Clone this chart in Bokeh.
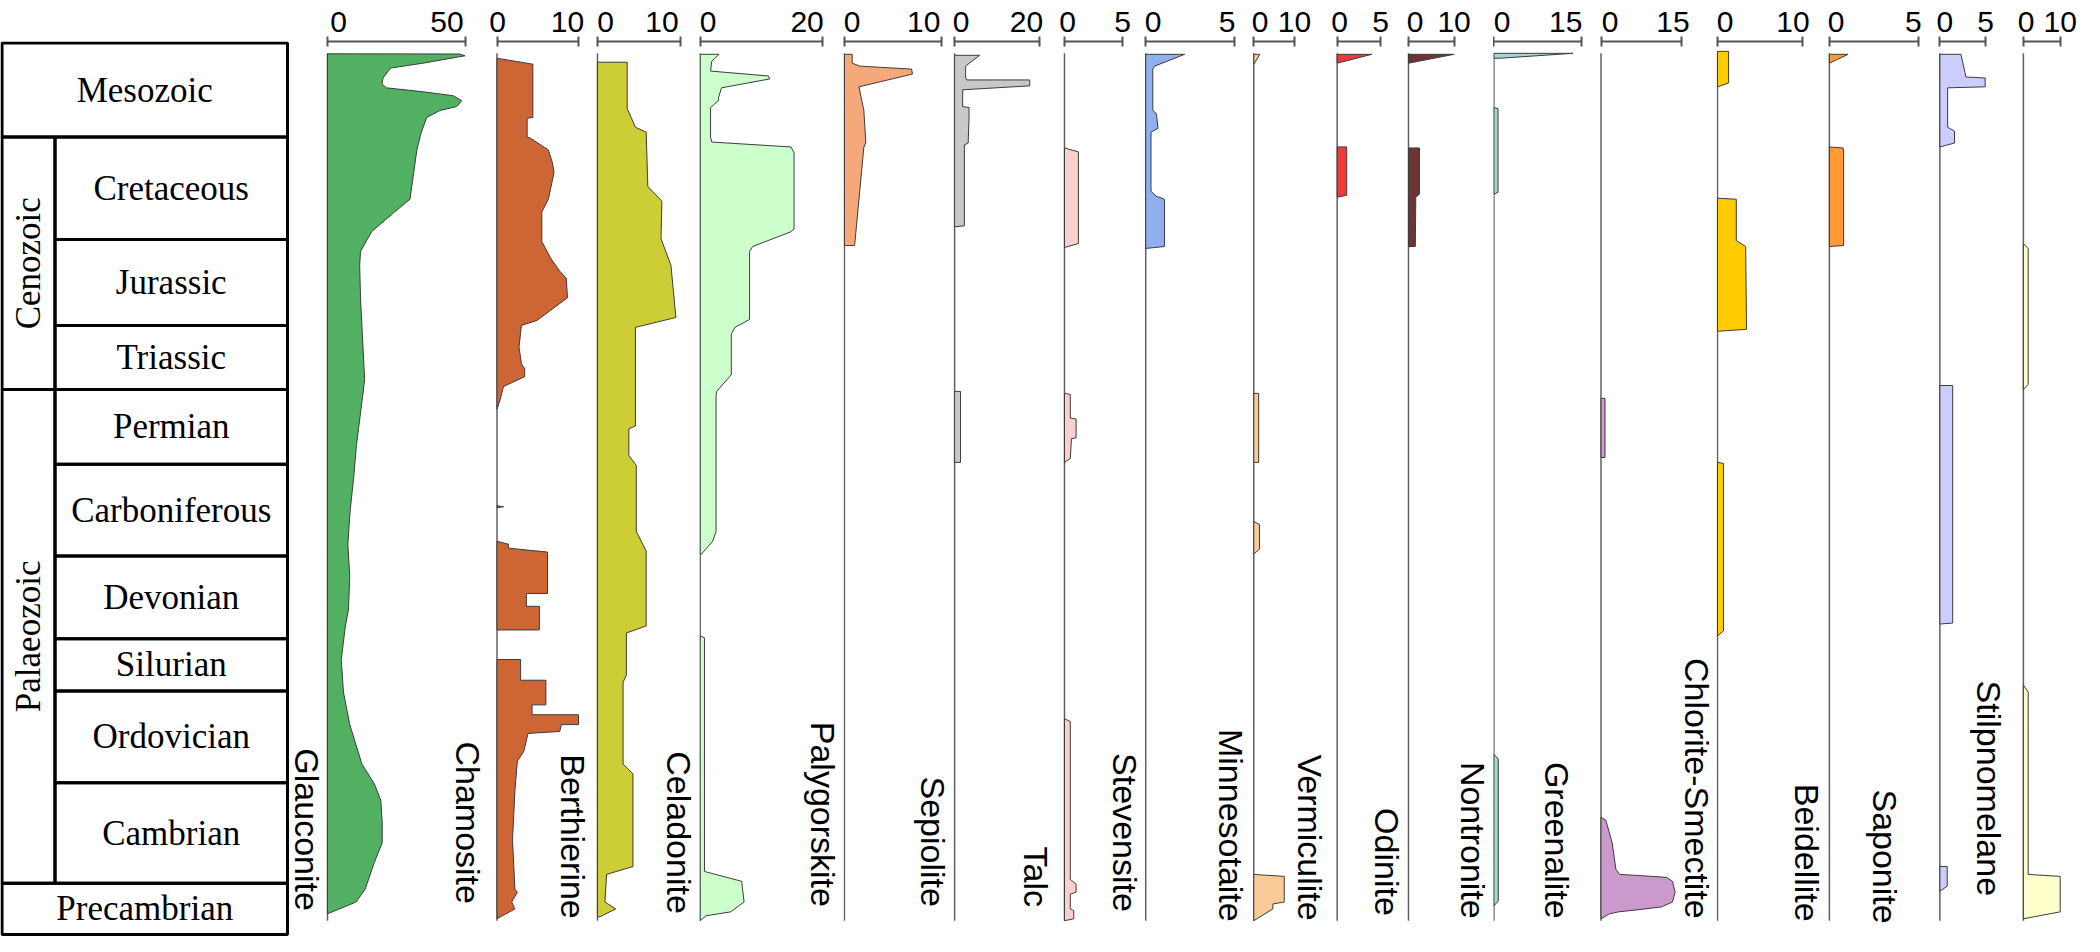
import math
import numpy as np
from bokeh.plotting import figure
from bokeh.models import Range1d, LinearAxis, FixedTicker
from bokeh.layouts import row
from bokeh.core.properties import value
from bokeh.embed import file_html
from bokeh.resources import INLINE

N = None

# ---------------- stratigraphic column (positions on the shared vertical scale) ----------------
ERA_NAMES = ["Mesozoic", "Cenozoic", "Palaeozoic", "Precambrian"]
ERA_TOP = [41.5, 137, 393, 894]
ERA_BOTTOM = [137, 393, 894, 946]
ERA_FULL_WIDTH = [True, False, False, True]
PERIOD_NAMES = ["Cretaceous", "Jurassic", "Triassic", "Permian", "Carboniferous",
                "Devonian", "Silurian", "Ordovician", "Cambrian"]
PERIOD_TOP = [137, 241, 328, 393, 469, 562, 646, 699, 792]
PERIOD_BOTTOM = [241, 328, 393, 469, 562, 646, 699, 792, 894]

# ---------------- minerals ----------------
MINERALS = ["Glauconite", "Chamosite", "Berthierine", "Celadonite", "Palygorskite", "Sepiolite",
            "Talc", "Stevensite", "Minnesotaite", "Vermiculite", "Odinite", "Nontronite",
            "Greenalite", "Chlorite-Smectite", "Beidellite", "Saponite", "Stilpnomelane"]
AXIS_MAX = [50, 10, 10, 20, 10, 20, 5, 5, 10, 5, 10, 15, 15, 10, 5, 5, 10]
COLORS = ["#52B062", "#CD6634", "#CDCD35", "#CCFFCC", "#F5A97B", "#C8C8C8", "#F9CFCF", "#8FAFF0",
          "#FAC998", "#EE3A3A", "#6E3434", "#9FD8D0", "#CC99CC", "#FFCC00", "#FF9A35", "#CCCCFF",
          "#FFFFCC"]

glauconite_pos = [52.5, 52.7, 54.5, 62, 67, 77, 83, 87, 91, 95, 100, 106, 110, 117, 133, 150, 180, 200,
                  213, 233, 253, 267, 300, 333, 383, 417, 450, 483, 517, 550, 583, 617, 633, 667, 700,
                  733, 773, 793, 810, 833, 853, 873, 900, 913, 925]
glauconite_pct = [0, 48, 50, 34.7, 22.9, 20.2, 19.8, 21.4, 34.7, 45.7, 48.8, 47, 40.9, 36.1, 34, 32.5,
                  31, 30, 24.4, 16, 12, 11.7, 12, 12.6, 13.5, 12, 10.5, 9.5, 8.2, 7.4, 8.1, 7.6, 6.5,
                  5.0, 5.8, 8.1, 12.5, 17, 19.4, 19.9, 19.9, 17, 13.7, 10.4, 0]

chamosite_pos = [57, 63, 117, 118, 137, 138, 150, 163, 173, 200, 213, 243, 260, 273, 280, 300, 323, 328,
                 350, 367, 372, 380, 390, 403, 413, N, 511, 512, 513, N,
                 547, 550, 554, 558, 600, 600, 613, 613, 637, 637, N,
                 667, 667, 688, 688, 713, 713, 723, 723, 733, 733, 740, 742, 760, 770, 800, 850, 900,
                 903, 913, 920, 930]
chamosite_pct = [0, 4.4, 4.4, 3.7, 3.7, 4.1, 6.3, 6.8, 7.0, 6.3, 5.5, 5.5, 6.6, 7.7, 8.5, 8.65, 4.9, 3.0,
                 2.7, 3.0, 3.4, 3.4, 0.8, 0.4, 0, N, 0, 0.8, 0, N,
                 0, 1.4, 1.4, 6.2, 6.2, 3.6, 3.6, 5.2, 5.2, 0, N,
                 0, 2.9, 2.9, 6.0, 6.0, 4.3, 4.3, 10, 10, 7.9, 7.7, 3.8, 3.3, 2.5, 2.2, 1.9, 2.2,
                 2.5, 1.8, 2.2, 0]

berthierine_pos = [61, 61, 108, 127, 132, 187, 202, 240, 267, 320, 330, 430, 433, 460, 470, 537, 557,
                   633, 640, 683, 690, 773, 783, 877, 885, 913, 920, 928, 928]
berthierine_pct = [0, 3.6, 3.6, 4.6, 5.9, 6.1, 7.8, 7.7, 8.9, 9.5, 4.6, 4.6, 3.8, 3.8, 4.7, 4.7, 5.9,
                   5.9, 3.5, 3.5, 3.1, 3.1, 4.3, 4.3, 1.1, 0.9, 2.2, 0.3, 0]

celadonite_pos = [53, 53, 60, 70, 75, 78, 87, 97, 100, 103, 107, 137, 142, 147, 153, 230, 233, 248, 253,
                  322, 330, 337, 378, 395, 400, 537, 547, 560, 560, N,
                  643, 645, 882, 883, 892, 913, 923, 927, 932]
celadonite_pct = [0, 3.1, 1.9, 1.7, 11.2, 11.4, 3.5, 3.0, 3.0, 2.4, 1.7, 1.7, 1.9, 14.9, 15.4, 15.4,
                  14.9, 8.6, 8.1, 8.1, 5.7, 5.1, 5.1, 2.7, 2.6, 2.6, 2.05, 0.2, 0, N,
                  0, 0.7, 0.7, 1.3, 6.8, 7.2, 5.0, 0.95, 0]

palygorskite_pos = [53, 53, 62, 65, 68, 73, 86, 110, 143, 147, 247, 247]
palygorskite_pct = [0, 0.8, 0.8, 1.6, 6.9, 7.0, 1.5, 2.0, 2.2, 2.0, 1.05, 0]

sepiolite_pos = [54, 54, 65, 77, 79, 79, 85, 89, 106, 107, 117, 143, 145, 227, 228, N, 395, 395, 467, 467]
sepiolite_pct = [0, 5.9, 2.6, 2.6, 2.9, 17.7, 17.7, 1.9, 1.9, 3.4, 3.4, 3.2, 2.3, 2.3, 0, N, 0, 1.4, 1.4, 0]

talc_pos = [148, 152, 245, 249, N, 397, 398, 422, 423, 442, 443, 463, 467, N,
            727, 730, 890, 895, 903, 905, 920, 922, 930, 932]
talc_pct = [0, 1.2, 1.2, 0, N, 0, 0.5, 0.5, 1.0, 1.0, 0.6, 0.5, 0, N,
            0, 0.5, 0.5, 1.0, 1.0, 0.5, 0.5, 0.8, 0.8, 0]

stevensite_pos = [53, 53, 65, 68, 110, 113, 128, 132, 192, 197, 200, 248, 250]
stevensite_pct = [0, 2.2, 0.5, 0.4, 0.4, 0.6, 0.7, 0.3, 0.3, 0.6, 1.06, 1.06, 0]

minnesotaite_pos = [53, 53, 63, N, 397, 397, 467, 467, N, 527, 530, 555, 560, N, 885, 887, 913, 915, 920, 932]
minnesotaite_pct = [0, 1.5, 0, N, 0, 1.2, 1.2, 0, N, 0, 1.4, 1.4, 0, N, 0, 7.5, 7.5, 4.7, 4.7, 0]

vermiculite_pos = [53, 53, 62, N, 147, 147, 196, 198]
vermiculite_pct = [0, 4.0, 0, N, 0, 1.1, 1.1, 0]

odinite_pos = [53, 53, 62, N, 148, 148, 195, 198, 248, 248]
odinite_pct = [0, 10, 0, N, 0, 2.4, 2.4, 1.6, 1.5, 0]

nontronite_pos = [52, 52, 57, 57, N, 107, 108, 193, 195, N, 763, 768, 912, 917]
nontronite_pct = [0, 13.5, 1.0, 0, N, 0, 0.7, 0.7, 0, N, 0, 0.75, 0.75, 0]

greenalite_pos = [402, 402, 462, 462, N, 827, 830, 853, 880, 885, 886, 888, 892, 903, 913, 918, 921,
                  923, 925, 930]
greenalite_pct = [0, 0.75, 0.75, 0, N, 0, 0.9, 2.1, 2.8, 3.5, 6.7, 12.3, 13.4, 13.9, 13.4, 11.3, 6.7,
                  3.3, 1.6, 0]

chlorite_smectite_pos = [50, 50, 82, 86, N, 199, 200, 242, 248, 332, 334, N, 467, 468, 638, 643]
chlorite_smectite_pct = [0, 1.3, 1.3, 0, N, 0, 2.2, 2.2, 3.3, 3.4, 0, N, 0, 0.7, 0.7, 0]

beidellite_pos = [53, 53, 62, N, 147, 148, 152, 247, 248]
beidellite_pct = [0, 1.05, 0, N, 0, 0.77, 0.8, 0.8, 0]

saponite_pos = [53, 53, 76, 77, 86, 87, 127, 131, 143, 147, N, 389, 389, 630, 631, N, 877, 877, 897, 902]
saponite_pct = [0, 2.3, 2.85, 4.95, 4.95, 0.85, 0.85, 1.6, 1.6, 0, N, 0, 1.4, 1.4, 0, N, 0, 0.8, 0.8, 0]

stilpnomelane_pos = [245, 250, 388, 393, N, 693, 700, 885, 887, 923, 930]
stilpnomelane_pct = [0, 1.3, 1.3, 0, N, 0, 1.3, 1.3, 10, 10, 0]

SERIES = [
    (glauconite_pos, glauconite_pct), (chamosite_pos, chamosite_pct),
    (berthierine_pos, berthierine_pct), (celadonite_pos, celadonite_pct),
    (palygorskite_pos, palygorskite_pct), (sepiolite_pos, sepiolite_pct),
    (talc_pos, talc_pct), (stevensite_pos, stevensite_pct),
    (minnesotaite_pos, minnesotaite_pct), (vermiculite_pos, vermiculite_pct),
    (odinite_pos, odinite_pct), (nontronite_pos, nontronite_pct),
    (greenalite_pos, greenalite_pct), (chlorite_smectite_pos, chlorite_smectite_pct),
    (beidellite_pos, beidellite_pct), (saponite_pos, saponite_pct),
    (stilpnomelane_pos, stilpnomelane_pct),
]

# ---------------- layout (page pixels) ----------------
PAGE_MARGIN = 8
CANVAS_W = 2084
CANVAS_H = 936
Y_TOP, Y_BOTTOM = 40, 948
BASELINE_TOP, BASELINE_BOTTOM = 52, 932
BASE_X = [335, 504.5, 605, 707.7, 851.9, 962.1, 1072, 1153.2, 1261.3, 1344.7, 1416, 1501.4, 1608.5,
          1725, 1836.9, 1947.4, 2030.9]
END_X = [472.5, 586, 687.5, 829.6, 949.2, 1047, 1130, 1241.6, 1301.9, 1388, 1461.6, 1589.3, 1688.5,
         1810.4, 1925.8, 1993.1, 2067.7]
ZERO_DX = [11, 0.5, 8, 7, 4, 6, 3, 5, 4, 2.3, 5, 3, 9, 3, 4, 5, 2.6]
MAX_DX = [-18, -11, -18, -15, -18, -13, 0, -7, 0, 0, 0, -16, -8, -10, -5, 0, 0]
LABEL_DX = [-20.5, -29, -25, -21, -21, -22, -29, -21, -23, -27, -22, -21, -44, -21, -22, -55, -34]
LABEL_END_Y = [922, 915, 930, 925, 918, 918, 918, 923, 933, 932, 927, 930, 930, 930, 933, 935, 907]
STRAT_LEFT, STRAT_DIV, STRAT_RIGHT = 9.5, 62.5, 295

SANS = "Liberation Sans"
SERIF = "Liberation Serif"
AXIS_GREY = "#555555"
TICK_PX = 30
TICK_STANDOFF = 5
TOP_HEADROOM = 8      # blank band above the tick numbers
LABEL_PX = 34


def base_fig(width, x0, x1):
    p = figure(width=width, height=CANVAS_H, x_range=Range1d(x0, x1),
               y_range=Range1d(Y_BOTTOM, Y_TOP), output_backend="svg", toolbar_location=None,
               x_axis_location=None, y_axis_location=None,
               min_border_left=0, min_border_right=0, min_border_top=0, min_border_bottom=0)
    p.outline_line_color = None
    p.grid.visible = False
    p.background_fill_color = "white"
    p.border_fill_color = "white"
    return p


# figure boundaries: each panel starts just right of the name that stands left of its baseline
# and of everything drawn by the previous panel; the first figure also holds the column of periods
digit_half = 0.278 * TICK_PX
label_half = 0.58 * LABEL_PX
bounds_left = []
zero_dx = []
prev_right = STRAT_RIGHT + 1.5
for k in range(len(MINERALS)):
    b = BASE_X[k]
    lo = max(b + LABEL_DX[k] + label_half, prev_right)
    left = int(math.ceil(lo))
    bounds_left.append(left)
    zero_dx.append(max(ZERO_DX[k], left - b + digit_half + 0.3))
    n_digits = len(str(AXIS_MAX[k]))
    prev_right = max(END_X[k] + 1.5, END_X[k] + MAX_DX[k] + n_digits * digit_half + 0.5)
bounds_left[0] = PAGE_MARGIN
L = bounds_left + [PAGE_MARGIN + CANVAS_W]

figs = []
scales = []
for i, name in enumerate(MINERALS):
    b, e, vmax = BASE_X[i], END_X[i], AXIS_MAX[i]
    s = (e - b) / vmax
    scales.append(s)
    left, right = L[i], L[i + 1]
    p = base_fig(right - left, (left - b) / s, (right - b) / s)
    t0 = zero_dx[i] / s
    t1 = vmax + MAX_DX[i] / s
    axis = LinearAxis(ticker=FixedTicker(ticks=[t0, t1], minor_ticks=[0, vmax]),
                      bounds=(0, vmax), major_label_overrides={t0: "0", t1: str(vmax)},
                      axis_line_color=AXIS_GREY, axis_line_width=2,
                      major_tick_line_color=None, major_tick_in=0, major_tick_out=0,
                      minor_tick_line_color=AXIS_GREY, minor_tick_line_width=2,
                      minor_tick_in=5, minor_tick_out=5,
                      major_label_standoff=TICK_STANDOFF, major_label_text_font=SANS,
                      major_label_text_font_size=f"{TICK_PX}px", major_label_text_color="black")
    p.add_layout(axis, "above")
    # outer band (white tick on white) that leaves headroom above the numbers
    p.add_layout(LinearAxis(ticker=FixedTicker(ticks=[vmax / 2], minor_ticks=[]),
                            bounds=(0, vmax), axis_line_color=None,
                            major_tick_line_color="white", major_tick_line_width=1,
                            major_tick_in=0, major_tick_out=TOP_HEADROOM,
                            minor_tick_line_color=None, minor_tick_out=0,
                            major_label_text_color=None, major_label_standoff=0), "above")
    p.segment(x0=[0], y0=[BASELINE_TOP], x1=[0], y1=[BASELINE_BOTTOM],
              line_color="#606060", line_width=1.5)
    pos, pct = SERIES[i]
    p.patch(x=np.array(pct, dtype=float), y=np.array(pos, dtype=float),
            fill_color=COLORS[i], line_color="#3c3c3c", line_width=1)
    figs.append(p)


def to_x(fig_index, px):
    """page pixel -> data x of the given figure"""
    return (px - BASE_X[fig_index]) / scales[fig_index]


# ---- stratigraphic column, drawn by the first figure ----
strat = figs[0]
era_left = [to_x(0, STRAT_LEFT)] * len(ERA_NAMES)
era_right = [to_x(0, STRAT_RIGHT if f else STRAT_DIV) for f in ERA_FULL_WIDTH]
strat.quad(left=era_left, right=era_right, top=ERA_TOP, bottom=ERA_BOTTOM,
           fill_color=None, line_color="black", line_width=3)
strat.quad(left=[to_x(0, STRAT_DIV)] * len(PERIOD_NAMES),
           right=[to_x(0, STRAT_RIGHT)] * len(PERIOD_NAMES),
           top=PERIOD_TOP, bottom=PERIOD_BOTTOM, fill_color=None, line_color="black", line_width=3)
for name, t, b_, full in zip(ERA_NAMES, ERA_TOP, ERA_BOTTOM, ERA_FULL_WIDTH):
    if full:
        strat.text(x=[to_x(0, (STRAT_LEFT + STRAT_RIGHT) / 2)], y=[(t + b_) / 2], text=[name],
                   text_align="center", text_baseline="middle", text_font=value(SERIF),
                   text_font_size="35px", text_color="black")
    else:
        strat.text(x=[to_x(0, (STRAT_LEFT + STRAT_DIV) / 2)], y=[(t + b_) / 2], text=[name],
                   angle=math.pi / 2, text_align="center", text_baseline="middle",
                   text_font=value(SERIF), text_font_size="35px", text_color="black")
strat.text(x=[to_x(0, (STRAT_DIV + STRAT_RIGHT) / 2)] * len(PERIOD_NAMES),
           y=[(t + b_) / 2 for t, b_ in zip(PERIOD_TOP, PERIOD_BOTTOM)], text=PERIOD_NAMES,
           text_align="center", text_baseline="middle", text_font=value(SERIF),
           text_font_size="35px", text_color="black")

# mineral names (rotated, reading downwards), each standing left of its column's baseline;
# drawn by whichever figure holds that spot
for i, name in enumerate(MINERALS):
    c = BASE_X[i] + LABEL_DX[i]
    j = max(k for k in range(len(L) - 1) if L[k] <= c - label_half)
    figs[j].text(x=[to_x(j, c)], y=[LABEL_END_Y[i]], text=[name], angle=-math.pi / 2,
                 text_align="right", text_baseline="middle", text_font=value(SANS),
                 text_font_size=f"{LABEL_PX}px", text_color="black")

layout = row(*figs)
open("out.html", "w").write(file_html(layout, INLINE))
